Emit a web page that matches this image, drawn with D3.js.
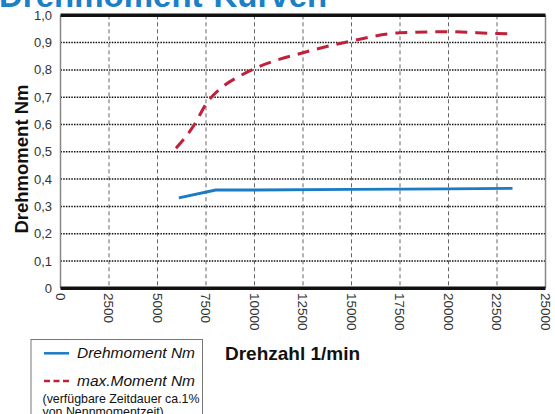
<!DOCTYPE html>
<html><head><meta charset="utf-8">
<script src="https://cdn.jsdelivr.net/npm/d3@7"></script>
<style>body{margin:0;background:#fff}svg{display:block;font-family:"Liberation Sans",Arial,sans-serif}</style>
</head><body>
<svg id="c" width="555" height="414"></svg>
<script>
const yTicks = [0,0.1,0.2,0.3,0.4,0.5,0.6,0.7,0.8,0.9,1.0];
const yTickLabels = ["0","0,1","0,2","0,3","0,4","0,5","0,6","0,7","0,8","0,9","1,0"];
const xTicks = [0,2500,5000,7500,10000,12500,15000,17500,20000,22500,25000];
const drehRpm = [6100,8000,10000,15000,20000,23300];
const drehNm  = [0.331,0.360,0.360,0.362,0.364,0.366];
const maxRpm = [5950,6850,7550,8300,9250,10100,12500,15000,17500,20000,22500,23100];
const maxNm  = [0.513,0.594,0.680,0.735,0.778,0.808,0.863,0.906,0.936,0.940,0.933,0.932];

const svg = d3.select("#c");
const x = d3.scaleLinear().domain([0,25000]).range([60.5,545.5]);
const y = d3.scaleLinear().domain([0,1]).range([288.3,15.3]);

// title
svg.append("text").attr("x",-1).attr("y",7).attr("font-size",33).attr("font-weight","bold")
  .attr("fill","#1b80c6").text("Drehmoment-Kurven");

// vertical grid
svg.append("g").selectAll("line").data(xTicks.slice(1,-1)).join("line")
  .attr("x1",d=>x(d)).attr("x2",d=>x(d)).attr("y1",y(1)).attr("y2",y(0))
  .attr("stroke","#666").attr("stroke-width",1).attr("stroke-dasharray","4,3");
// horizontal grid
svg.append("g").selectAll("line").data(yTicks.slice(1,-1)).join("line")
  .attr("x1",x(0)).attr("x2",x(25000)).attr("y1",d=>y(d)).attr("y2",d=>y(d))
  .attr("stroke","#111").attr("stroke-width",1.5).attr("stroke-dasharray","1.5,1.2");
// borders
svg.append("line").attr("x1",x(0)).attr("x2",x(0)).attr("y1",y(1)).attr("y2",y(0)).attr("stroke","#888").attr("stroke-width",1.5);
svg.append("line").attr("x1",x(25000)).attr("x2",x(25000)).attr("y1",y(1)).attr("y2",y(0)).attr("stroke","#888").attr("stroke-width",1.5);
svg.append("line").attr("x1",x(0)).attr("x2",x(25000)).attr("y1",y(1)).attr("y2",y(1)).attr("stroke","#111").attr("stroke-width",3.5);
svg.append("line").attr("x1",x(0)).attr("x2",x(25000)).attr("y1",y(0)).attr("y2",y(0)).attr("stroke","#111").attr("stroke-width",3.5);

// y tick labels
svg.append("g").selectAll("text").data(yTicks).join("text")
  .attr("x",52).attr("y",d=>y(d)).attr("dy","0.35em").attr("text-anchor","end")
  .attr("font-size",13).attr("fill","#333").text((d,i)=>yTickLabels[i]);
// x tick labels rotated
svg.append("g").selectAll("text").data(xTicks).join("text")
  .attr("transform",d=>`translate(${x(d)},293) rotate(90)`).attr("dy","0.35em")
  .attr("font-size",13.5).attr("fill","#333").text(d=>d);

// axis titles
svg.append("text").attr("transform","translate(28,159) rotate(-90)").attr("text-anchor","middle")
  .attr("font-size",18.5).attr("font-weight","bold").attr("fill","#111").text("Drehmoment Nm");
svg.append("text").attr("x",225).attr("y",360).attr("font-size",19).attr("font-weight","bold")
  .attr("fill","#111").text("Drehzahl 1/min");

// lines
const line = d3.line().x(d=>x(d[0])).y(d=>y(d[1]));
svg.append("path").datum(drehRpm.map((r,i)=>[r,drehNm[i]])).attr("d",line)
  .attr("fill","none").attr("stroke","#1a7cc4").attr("stroke-width",2.8);
svg.append("path").datum(maxRpm.map((r,i)=>[r,maxNm[i]])).attr("d",line.curve(d3.curveMonotoneX))
  .attr("fill","none").attr("stroke","#c0213a").attr("stroke-width",3).attr("stroke-dasharray","12,8");

// legend
svg.append("rect").attr("x",31).attr("y",339.5).attr("width",171.5).attr("height",90)
  .attr("fill","#fff").attr("stroke","#777").attr("stroke-width",1);
svg.append("line").attr("x1",44).attr("x2",69).attr("y1",353.3).attr("y2",353.3).attr("stroke","#1a7cc4").attr("stroke-width",2.5);
svg.append("text").attr("x",77).attr("y",358).attr("font-size",15.5).attr("font-style","italic").attr("fill","#111").text("Drehmoment Nm");
svg.append("line").attr("x1",44).attr("x2",69).attr("y1",381).attr("y2",381).attr("stroke","#c0213a").attr("stroke-width",2.5).attr("stroke-dasharray","6,3.5");
svg.append("text").attr("x",77).attr("y",385.5).attr("font-size",15.5).attr("font-style","italic").attr("fill","#111").text("max.Moment Nm");
svg.append("text").attr("x",42.5).attr("y",403).attr("font-size",12.4).attr("fill","#111").text("(verfügbare Zeitdauer ca.1%");
svg.append("text").attr("x",42.5).attr("y",416).attr("font-size",12.4).attr("fill","#111").text("von Nennmomentzeit)");
</script>
</body></html>
